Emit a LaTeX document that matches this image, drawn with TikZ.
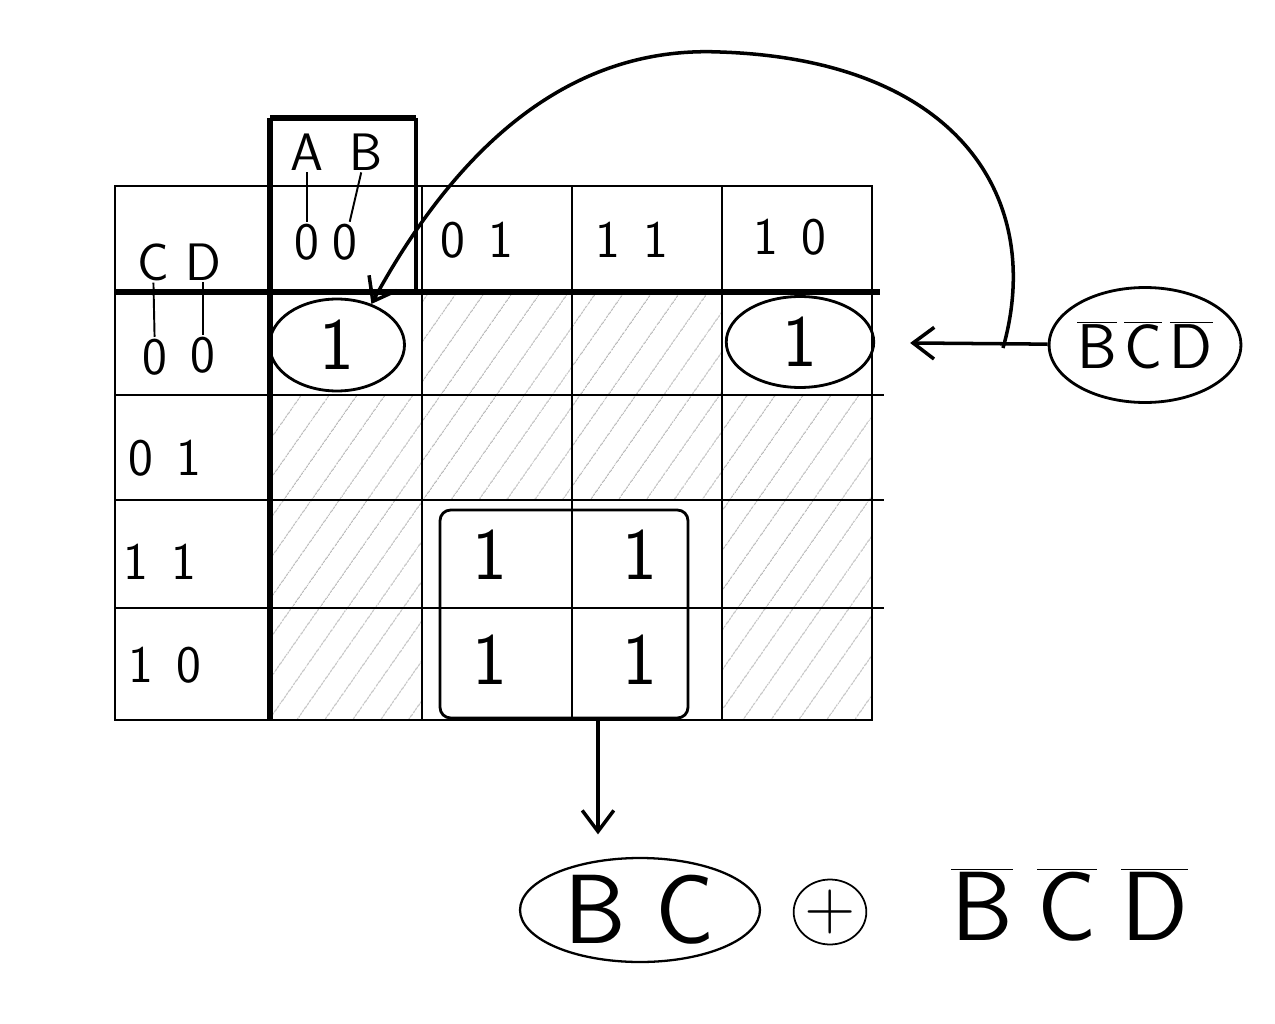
\documentclass[tikz,border=0pt]{standalone}
\usepackage{tikz}
\usetikzlibrary{positioning, arrows.meta, shapes.geometric, patterns.meta}
\newcommand{\nbar}[1]{$\overline{\mbox{#1}}$}
\newcommand{\digs}[2]{#1\hspace{0.45em}#2}
\tikzset{
  thin grid/.style={line width=1.1pt},
  thick grid/.style={line width=3.2pt},
  hatch/.style={pattern={Lines[angle=55,distance=13pt,line width=0.5pt]}, pattern color=gray!55},
  lbl/.style={font=\sffamily\fontsize{30}{32}\selectfont, inner sep=1pt},
  one/.style={font=\sffamily\fontsize{42}{44}\selectfont, inner sep=1pt},
  big/.style={font=\sffamily\fontsize{56}{60}\selectfont},
  loop/.style={draw, line width=1.6pt},
  barb/.style={-{Straight Barb[length=12pt,width=18pt,line width=2pt]}, line width=2pt}
}
\begin{document}
\begin{tikzpicture}[x=0.02cm, y=-0.02cm]
  \useasboundingbox (0,0) rectangle (1275,1024);
  \def\cx{{115,270,422,572,722,872}}  % column borders
  \def\ry{{186,292,395,500,608,720}}  % row borders
  % hatched zero cells
  \foreach \c/\r in {2/1,3/1,1/2,2/2,3/2,4/2,1/3,4/3,1/4,4/4}{
     \pgfmathsetmacro\xa{\cx[\c]}
     \pgfmathsetmacro\xb{\cx[\c+1]}
     \pgfmathsetmacro\ya{\ry[\r]}
     \pgfmathsetmacro\yb{\ry[\r+1]}
     \fill[hatch] (\xa,\ya) rectangle (\xb,\yb);
  }
  % grid
  \draw[thin grid] (115,186) rectangle (872,720);
  \foreach \x in {422,572,722} \draw[thin grid] (\x,186) -- (\x,720);
  \foreach \y in {395,500,608} \draw[thin grid] (115,\y) -- (884,\y);
  \draw[thick grid] (270,118) -- (270,720);
  \draw[thick grid] (115,292) -- (880,292);
  % AB header box
  \draw[thick grid] (270,118) -- (416,118);
  \draw[line width=2pt] (416,118) -- (416,292);
  % variable names and their ticks
  \node[lbl] (A) at (307,152) {A};
  \node[lbl] (B) at (366,152) {B};
  \node[lbl] (a0) at (307,242) {0};
  \node[lbl] (b0) at (345,242) {0};
  \draw[thin grid] (A) -- (a0);
  \draw[thin grid] (B) -- (b0);
  \node[lbl] (C) at (153,262) {C};
  \node[lbl] (D) at (203,262) {D};
  \node[lbl] (c0) at (155,357) {0};
  \node[lbl] (d0) at (203,355) {0};
  \draw[thin grid] (C) -- (c0);
  \draw[thin grid] (D) -- (d0);
  % column and row codes
  \node[lbl] (col01) at (477,240) {\digs{0}{1}};
  \node[lbl] (col11) at (632,240) {\digs{1}{1}};
  \node[lbl] (col10) at (790,237) {\digs{1}{0}};
  \node[lbl] (row01) at (165,458) {\digs{0}{1}};
  \node[lbl] (row11) at (160,562) {\digs{1}{1}};
  \node[lbl] (row10) at (165,665) {\digs{1}{0}};
  % ones and their groups
  \node[one, loop, ellipse, minimum width=2.7cm, minimum height=1.84cm] (one00) at (337,345) {1};
  \node[one, loop, ellipse, minimum width=2.95cm, minimum height=1.82cm] (one10) at (800,342) {1};
  \node[loop, rounded corners=6pt, minimum width=4.96cm, minimum height=4.16cm] (quad) at (564,614) {};
  \foreach \n/\x/\y in {q1/490/555, q2/640/555, q3/490/660, q4/640/660}
     \node[one] (\n) at (\x,\y) {1};
  % term B'C'D'
  \node[loop, ellipse, minimum width=3.45cm, minimum height=2.3cm, inner sep=0pt, font=\sffamily\fontsize{36}{38}\selectfont]
     (bcd) at (1145,345) {\nbar{B}\hspace{0.12em}\nbar{C}\hspace{0.12em}\nbar{D}};
  \draw[barb, shorten >=0.7cm] (bcd) -- (one10);
  \coordinate (split) at (1003,348);
  \coordinate (apex) at (720,52);
  \draw[barb] (split) .. controls (1045,200) and (960,60) .. (apex)
     .. controls (560,45) and (450,160) .. (one00.50);
  % result
  \node[big, draw, ellipse, line width=1.3pt, minimum width=4.8cm, minimum height=2.08cm, inner sep=0pt]
     (bc) at (640,910) {B\hspace{0.3em}C};
  \coordinate (drop) at (598,720);
  \draw[barb, shorten >=0.45cm] (drop) -- (drop |- bc.north);
  \node[draw, ellipse, line width=1pt, minimum width=1cm, minimum height=1.3cm, inner sep=0pt,
     font=\sffamily\fontsize{40}{44}\selectfont] (plus) at (830,912) {+};
  \node[big, anchor=west] (bcdres) at (945,905) {\nbar{B}\hspace{0.25em}\nbar{C}\hspace{0.25em}\nbar{D}};
\end{tikzpicture}
\end{document}
